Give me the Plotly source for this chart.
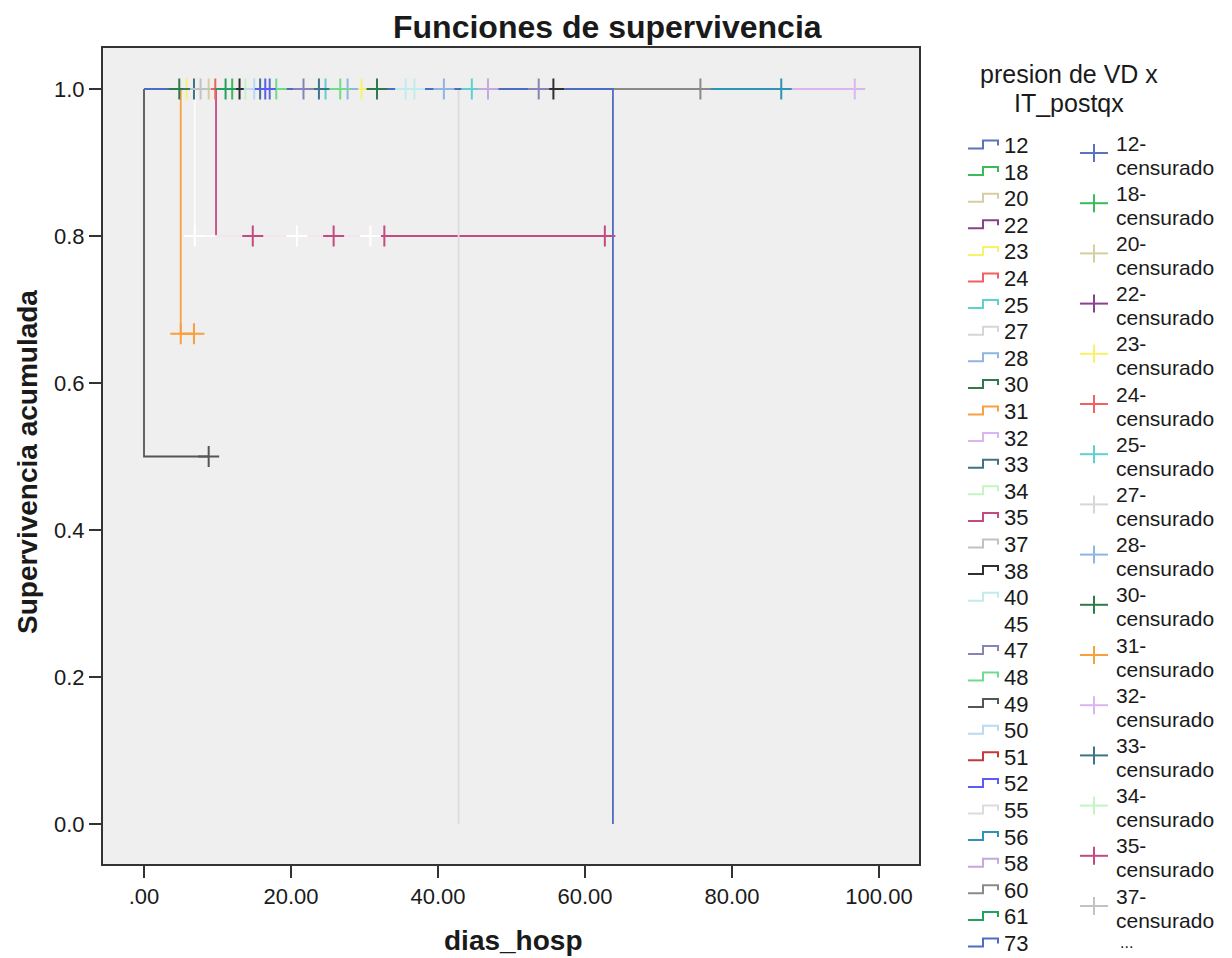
import plotly.graph_objects as go

# ---------------- data ----------------
group_labels = ["12", "18", "20", "22", "23", "24", "25", "27", "28", "30", "31", "32",
                "33", "34", "35", "37", "38", "40", "45", "47", "48", "49", "50", "51",
                "52", "55", "56", "58", "60", "61", "73"]
group_colors = ["#5b72c0", "#3cb95a", "#d5cfa0", "#8b3f8f", "#f7f26a", "#f26060", "#5fd0d0",
                "#d6d6d6", "#8fb5e3", "#2f7a4a", "#f8a040", "#dab5f2", "#3e7488", "#c3f5c3",
                "#c44a82", "#c2c2c2", "#303030", "#c2ecec", "#ffffff", "#8585b5", "#6fdc8c",
                "#555555", "#b8daf2", "#c23a3a", "#5c5cf2", "#dcdcdc", "#2f93b5", "#c6a8dc",
                "#8a8a8a", "#22a062", "#4f6cc4"]

# step curves (time, cumulative survival) per group, in group order
step_times = [[0, 17.1], [0, 12.0], [0, 8.8], [0, 8.2], [0, 29.6], [0, 9.7], [0, 44.6],
              [0, 7.4], [0, 40.8], [0, 31.7], [0, 5.0, 5.0, 6.8], [0, 96.7], [0, 23.8],
              [0, 13.8], [0, 9.8, 9.8, 62.7], [0, 7.7], [0, 55.7], [0, 36.8],
              [0, 6.9, 6.9, 30.8], [0, 53.7], [0, 26.7], [0, 0, 8.8], [0, 15.0], [0, 9.3],
              [0, 16.5], [0, 42.8, 42.8], [0, 86.7], [0, 46.8], [0, 75.7], [0, 11.1],
              [0, 63.8, 63.8]]
step_surv = [[1, 1], [1, 1], [1, 1], [1, 1], [1, 1], [1, 1], [1, 1], [1, 1], [1, 1], [1, 1],
             [1, 1, 0.667, 0.667], [1, 1], [1, 1], [1, 1], [1, 1, 0.8, 0.8], [1, 1], [1, 1],
             [1, 1], [1, 1, 0.8, 0.8], [1, 1], [1, 1], [1, 0.5, 0.5], [1, 1], [1, 1], [1, 1],
             [1, 1, 0], [1, 1], [1, 1], [1, 1], [1, 1], [1, 1, 0]]

# censored observations
cens_group = ["30", "23", "33", "37", "20", "24", "61", "18", "38", "34", "50", "33", "52", "12",
              "48", "47", "33", "25", "48", "28", "23", "30", "40", "40", "28", "25", "58", "47",
              "38", "60", "56", "32", "31", "31", "35", "35", "35", "35", "45", "45", "45", "49"]
cens_time = [4.8, 5.8, 6.8, 7.7, 8.8, 9.7, 11.1, 12.0, 13.0, 13.8, 15.0, 15.8, 16.5, 17.1,
             18.0, 21.7, 23.8, 24.7, 26.7, 27.7, 29.6, 31.7, 35.6, 36.8, 40.8, 44.6, 46.8, 53.7,
             55.7, 75.7, 86.7, 96.7, 5.0, 6.8, 14.8, 25.8, 32.7, 62.7, 6.9, 20.8, 30.8, 8.8]
cens_surv = [1] * 32 + [0.667, 0.667, 0.8, 0.8, 0.8, 0.8, 0.8, 0.8, 0.8, 0.5]

x_tickvals = [0, 20, 40, 60, 80, 100]
x_ticktext = [".00", "20.00", "40.00", "60.00", "80.00", "100.00"]
y_tickvals = [0, 0.2, 0.4, 0.6, 0.8, 1.0]
y_ticktext = ["0.0", "0.2", "0.4", "0.6", "0.8", "1.0"]

censored_legend_count = 16

# ---------------- figure ----------------
OFF = 8                      # page body margin
W, H = 1232 - OFF, 958 - OFF
L, R, T, B = 103, 919, 48, 864   # plot area in page pixels
FONT = "Liberation Sans, Arial, sans-serif"
TXT = "#1a1a1a"


def px(x):
    return (x - L) / (R - L)


def py(y):
    return (B - y) / (B - T)


color_of = dict(zip(group_labels, group_colors))

fig = go.Figure()

for g, c, xs, ys in zip(group_labels, group_colors, step_times, step_surv):
    fig.add_trace(go.Scatter(
        x=xs, y=ys, mode="lines", line=dict(color=c, width=1.8),
        opacity=0.85 if c == "#ffffff" else 1.0,
        hoverinfo="skip", showlegend=False))

for g in group_labels:
    xs = [t for gg, t in zip(cens_group, cens_time) if gg == g]
    ys = [s for gg, s in zip(cens_group, cens_surv) if gg == g]
    if not xs:
        continue
    fig.add_trace(go.Scatter(
        x=xs, y=ys, mode="markers",
        marker=dict(symbol="cross-thin", size=15, line=dict(color=color_of[g], width=2)),
        hoverinfo="skip", showlegend=False))

shapes = []
annotations = []

# title and axis titles
annotations.append(dict(text="<b>Funciones de supervivencia</b>", x=px(607), y=py(27),
                        xref="paper", yref="paper", showarrow=False, xanchor="center",
                        yanchor="middle", font=dict(family=FONT, size=32, color=TXT)))
annotations.append(dict(text="<b>dias_hosp</b>", x=px(513), y=py(940),
                        xref="paper", yref="paper", showarrow=False, xanchor="center",
                        yanchor="middle", font=dict(family=FONT, size=28, color=TXT)))
annotations.append(dict(text="<b>Supervivencia acumulada</b>", x=px(27), y=py(462),
                        xref="paper", yref="paper", showarrow=False, xanchor="center",
                        yanchor="middle", textangle=-90,
                        font=dict(family=FONT, size=28, color=TXT)))

# legend title
annotations.append(dict(text="presion de VD x", x=px(1069), y=py(74), xref="paper",
                        yref="paper", showarrow=False, xanchor="center", yanchor="middle",
                        font=dict(family=FONT, size=25, color=TXT)))
annotations.append(dict(text="IT_postqx", x=px(1069), y=py(103), xref="paper",
                        yref="paper", showarrow=False, xanchor="center", yanchor="middle",
                        font=dict(family=FONT, size=25, color=TXT)))

# left legend column: step icons
row0, drow = 144.5, 26.6
for i, (g, c) in enumerate(zip(group_labels, group_colors)):
    yc = row0 + i * drow
    path = (f"M {px(968)},{py(yc + 4)} L {px(983)},{py(yc + 4)} L {px(983)},{py(yc - 4)} "
            f"L {px(998)},{py(yc - 4)} L {px(998)},{py(yc + 1)}")
    shapes.append(dict(type="path", path=path, xref="paper", yref="paper",
                       line=dict(color=c, width=2)))
    annotations.append(dict(text=g, x=px(1002), y=py(yc + 1), xref="paper", yref="paper",
                            showarrow=False, xanchor="left", yanchor="middle",
                            font=dict(family=FONT, size=22, color=TXT)))

# right legend column: censored symbols
crow0, dcrow = 144.5, 50.2
for i, (g, c) in enumerate(zip(group_labels[:censored_legend_count],
                               group_colors[:censored_legend_count])):
    yt = crow0 + i * dcrow
    ycross = yt + 8.5
    shapes.append(dict(type="line", x0=px(1080), x1=px(1108), y0=py(ycross), y1=py(ycross),
                       xref="paper", yref="paper", line=dict(color=c, width=2)))
    shapes.append(dict(type="line", x0=px(1094), x1=px(1094), y0=py(ycross - 9),
                       y1=py(ycross + 9), xref="paper", yref="paper",
                       line=dict(color=c, width=2)))
    annotations.append(dict(text=g + "-", x=px(1114), y=py(yt - 1.5), xref="paper",
                            yref="paper", showarrow=False, xanchor="left", yanchor="middle",
                            font=dict(family=FONT, size=21, color=TXT)))
    annotations.append(dict(text="censurado", x=px(1114), y=py(yt + 22.5), xref="paper",
                            yref="paper", showarrow=False, xanchor="left", yanchor="middle",
                            font=dict(family=FONT, size=21, color=TXT)))
annotations.append(dict(text="...", x=px(1126), y=py(942), xref="paper", yref="paper",
                        showarrow=False, xanchor="center", yanchor="middle",
                        font=dict(family=FONT, size=16, color=TXT)))

x_left = (L - 144) / 7.35
x_right = (R - 144) / 7.35
y_bottom = -(B - 824) / 735
y_top = 1 + (89 - T) / 735

fig.update_layout(
    width=W, height=H,
    margin=dict(l=L - OFF, r=W - (R - OFF), t=T - OFF, b=H - (B - OFF), pad=0),
    paper_bgcolor="white", plot_bgcolor="#efefef",
    shapes=shapes, annotations=annotations, showlegend=False,
    font=dict(family=FONT, color=TXT),
)
fig.update_xaxes(range=[x_left, x_right], tickvals=x_tickvals, ticktext=x_ticktext,
                 showgrid=False, zeroline=False, showline=True, linecolor="#333333",
                 linewidth=2, mirror=True, ticks="outside", ticklen=12, tickwidth=2,
                 tickcolor="#333333", tickfont=dict(family=FONT, size=22, color=TXT))
fig.update_yaxes(range=[y_bottom, y_top], tickvals=y_tickvals, ticktext=y_ticktext,
                 showgrid=False, zeroline=False, showline=True, linecolor="#333333",
                 linewidth=2, mirror=True, ticks="outside", ticklen=12, tickwidth=2,
                 tickcolor="#333333", tickfont=dict(family=FONT, size=22, color=TXT))

fig.write_html("out.html")
